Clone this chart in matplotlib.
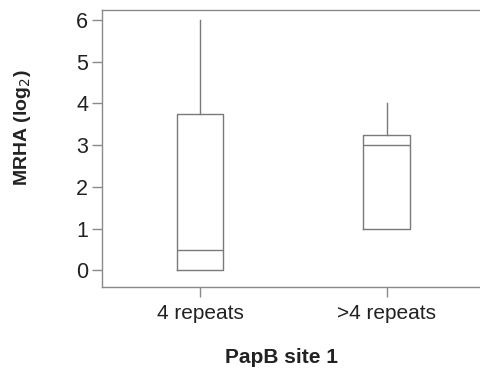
import matplotlib
matplotlib.use("Agg")
import matplotlib.pyplot as plt

plt.rcParams['font.family'] = ['Liberation Sans', 'DejaVu Sans']

# box plot summary values
groups = ['4 repeats', '>4 repeats']
lower = [0.0, 1.0]
q1 = [0.0, 1.0]
median = [0.5, 3.0]
q3 = [3.75, 3.25]
upper = [6.0, 4.0]

stats = []
for i in range(len(groups)):
    stats.append({'label': groups[i], 'whislo': lower[i], 'q1': q1[i], 'med': median[i],
                  'q3': q3[i], 'whishi': upper[i], 'fliers': []})

line_col = '#7a7a7a'
text_col = '#222222'

fig = plt.figure(figsize=(4.8, 3.7), dpi=100)
ax = fig.add_axes([0.2125, 0.224, 0.7875, 0.749])

ax.bxp(stats, positions=[1, 2], widths=0.25, showcaps=False, showfliers=False,
       boxprops=dict(color=line_col, linewidth=1.0),
       medianprops=dict(color=line_col, linewidth=1.0),
       whiskerprops=dict(color=line_col, linewidth=1.0))

ax.set_xlim(0.475, 2.5)
ax.set_ylim(-0.4, 6.24)
ax.set_yticks(range(0, 7))

for s in ['left', 'bottom', 'top']:
    ax.spines[s].set_color('#8a8a8a')
    ax.spines[s].set_linewidth(1.0)
ax.spines['right'].set_visible(False)

ax.tick_params(axis='both', colors='#8a8a8a', labelcolor=text_col, length=7, width=1.0)
ax.tick_params(axis='y', labelsize=15.5, pad=3)
ax.tick_params(axis='x', labelsize=15, pad=5)

ax.set_ylabel('MRHA (log$_2$)', fontsize=14, fontweight='bold', color=text_col, va='center')
ax.yaxis.set_label_coords(-0.209, 0.574)
ax.set_xlabel('PapB site 1', fontsize=15, fontweight='bold', color=text_col, va='center')
ax.xaxis.set_label_coords(0.474, -0.253)

fig.savefig('out.png', dpi=100)
